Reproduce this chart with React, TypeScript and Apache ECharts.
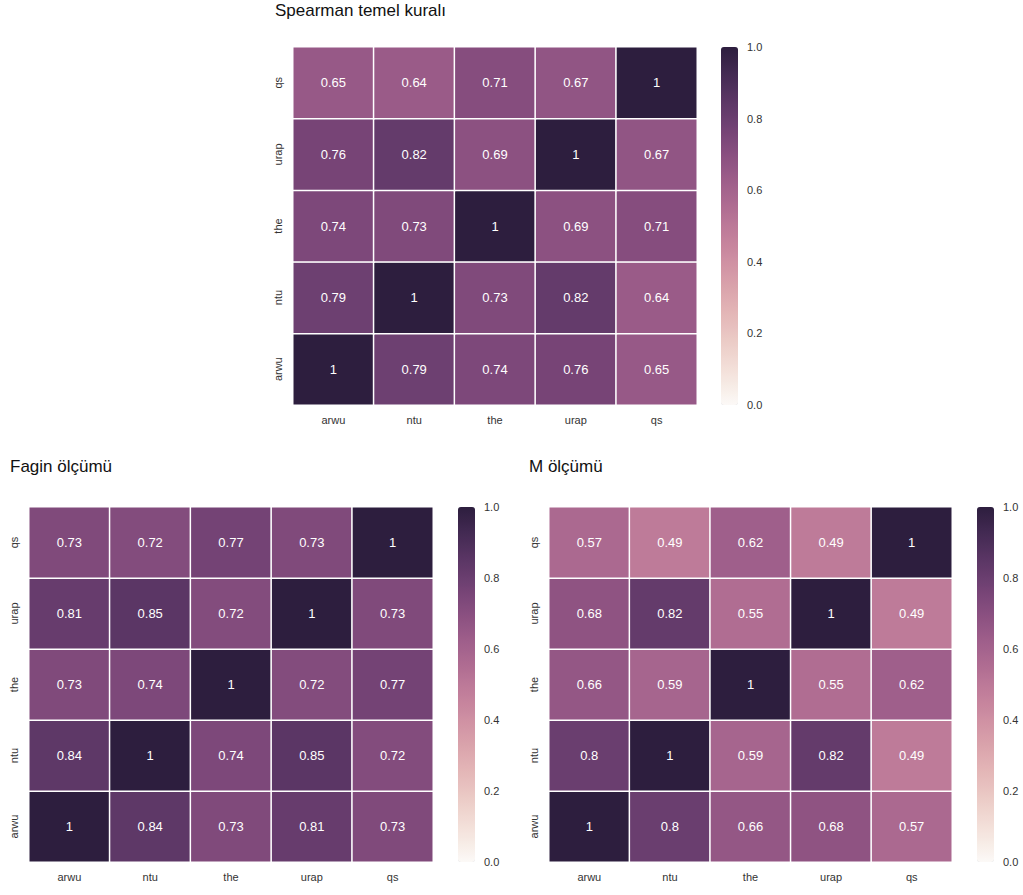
import React, { useEffect, useRef } from "react";
import * as echarts from "echarts";

const categories = ["arwu", "ntu", "the", "urap", "qs"];

// rows in order arwu, ntu, the, urap, qs (bottom to top); columns arwu..qs
const spearmanValues = [
  [1, 0.79, 0.74, 0.76, 0.65],
  [0.79, 1, 0.73, 0.82, 0.64],
  [0.74, 0.73, 1, 0.69, 0.71],
  [0.76, 0.82, 0.69, 1, 0.67],
  [0.65, 0.64, 0.71, 0.67, 1],
];
const faginValues = [
  [1, 0.84, 0.73, 0.81, 0.73],
  [0.84, 1, 0.74, 0.85, 0.72],
  [0.73, 0.74, 1, 0.72, 0.77],
  [0.81, 0.85, 0.72, 1, 0.73],
  [0.73, 0.72, 0.77, 0.73, 1],
];
const mValues = [
  [1, 0.8, 0.66, 0.68, 0.57],
  [0.8, 1, 0.59, 0.82, 0.49],
  [0.66, 0.59, 1, 0.55, 0.62],
  [0.68, 0.82, 0.55, 1, 0.49],
  [0.57, 0.49, 0.62, 0.49, 1],
];
const titles = ["Spearman temel kuralı", "Fagin ölçümü", "M ölçümü"];

// seaborn cubehelix_palette(light=~1, as_cmap=True)
function cubehelix(x: number): string {
  const start = 0, rot = 0.4, gamma = 1, hue = 0.8;
  const xg = Math.pow(x, gamma);
  const a = (hue * xg * (1 - xg)) / 2;
  const phi = 2 * Math.PI * (start / 3 + rot * x);
  const c = Math.cos(phi), s = Math.sin(phi);
  const r = xg + a * (-0.14861 * c + 1.78277 * s);
  const g = xg + a * (-0.29227 * c - 0.90649 * s);
  const b = xg + a * (1.97294 * c);
  const cl = (v: number) => Math.round(Math.max(0, Math.min(1, v)) * 255);
  return `rgb(${cl(r)},${cl(g)},${cl(b)})`;
}
const light = 0.98, dark = 0.15;
const rampColors: string[] = [];
for (let i = 0; i <= 40; i++) {
  const v = i / 40;
  rampColors.push(cubehelix(light - v * (light - dark)));
}

const toData = (m: number[][]) => {
  const out: [number, number, number][] = [];
  m.forEach((row, yi) => row.forEach((v, xi) => out.push([xi, yi, v])));
  return out;
};

export default function App() {
  const ref = useRef<HTMLDivElement>(null);
  useEffect(() => {
    if (!ref.current) return;
    const chart = echarts.init(ref.current, undefined, { renderer: "svg" });
    const font = "'Liberation Sans', Arial, sans-serif";
    const grids = [
      { left: 293, top: 47, width: 404, height: 358 },
      { left: 29, top: 507, width: 404, height: 355 },
      { left: 549, top: 507, width: 403, height: 355 },
    ];
    const cbLeft = [721, 458, 977];
    const datasets = [spearmanValues, faginValues, mValues];
    const allGrids: any[] = [];
    const xAxes: any[] = [];
    const yAxes: any[] = [];
    grids.forEach((g, i) => {
      allGrids.push({ ...g });
      xAxes.push({
        type: "category",
        gridIndex: i,
        data: categories,
        axisLine: { show: false },
        axisTick: { show: false },
        splitLine: { show: false },
        axisLabel: { color: "#333", fontSize: 11, fontFamily: font, margin: 9 },
      });
      yAxes.push({
        type: "category",
        gridIndex: i,
        data: categories,
        axisLine: { show: false },
        axisTick: { show: false },
        splitLine: { show: false },
        axisLabel: { color: "#333", fontSize: 11, fontFamily: font, margin: 10, rotate: 90 },
      });
    });
    // colorbar label axes
    grids.forEach((g, i) => {
      allGrids.push({ left: cbLeft[i], top: g.top, width: 17, height: g.height });
      xAxes.push({ type: "value", gridIndex: 3 + i, show: false });
      yAxes.push({
        type: "value",
        gridIndex: 3 + i,
        min: 0,
        max: 1,
        interval: 0.2,
        position: "right",
        axisLine: { show: false },
        axisTick: { show: false },
        splitLine: { show: false },
        axisLabel: {
          color: "#333",
          fontSize: 11,
          fontFamily: font,
          margin: 9,
          formatter: (v: number) => v.toFixed(1),
        },
      });
    });
    const titleStyle = { fontSize: 17, fontWeight: "normal", color: "#111", fontFamily: font };
    chart.setOption({
      animation: false,
      backgroundColor: "#ffffff",
      title: [
        { text: titles[0], left: 275, top: 2, padding: 0, textStyle: titleStyle },
        { text: titles[1], left: 10, top: 458, padding: 0, textStyle: titleStyle },
        { text: titles[2], left: 529, top: 458, padding: 0, textStyle: titleStyle },
      ],
      grid: allGrids,
      xAxis: xAxes,
      yAxis: yAxes,
      visualMap: grids.map((g, i) => ({
        type: "continuous",
        seriesIndex: i,
        min: 0,
        max: 1,
        calculable: false,
        realtime: false,
        left: cbLeft[i],
        top: g.top,
        itemWidth: 17,
        itemHeight: g.height,
        padding: 0,
        text: ["", ""],
        showLabel: false,
        inRange: { color: rampColors },
      })),
      series: datasets.map((d, i) => ({
        type: "heatmap",
        xAxisIndex: i,
        yAxisIndex: i,
        data: toData(d),
        itemStyle: { borderColor: "#ffffff", borderWidth: 1.5 },
        label: {
          show: true,
          color: "#ffffff",
          fontSize: 13,
          fontFamily: font,
          formatter: (p: any) => String(p.value[2]),
        },
        emphasis: { disabled: true },
      })),
    });
    return () => chart.dispose();
  }, []);
  return (
    <div
      ref={ref}
      style={{ position: "fixed", left: 0, top: 0, width: 1023, height: 895 }}
    />
  );
}
